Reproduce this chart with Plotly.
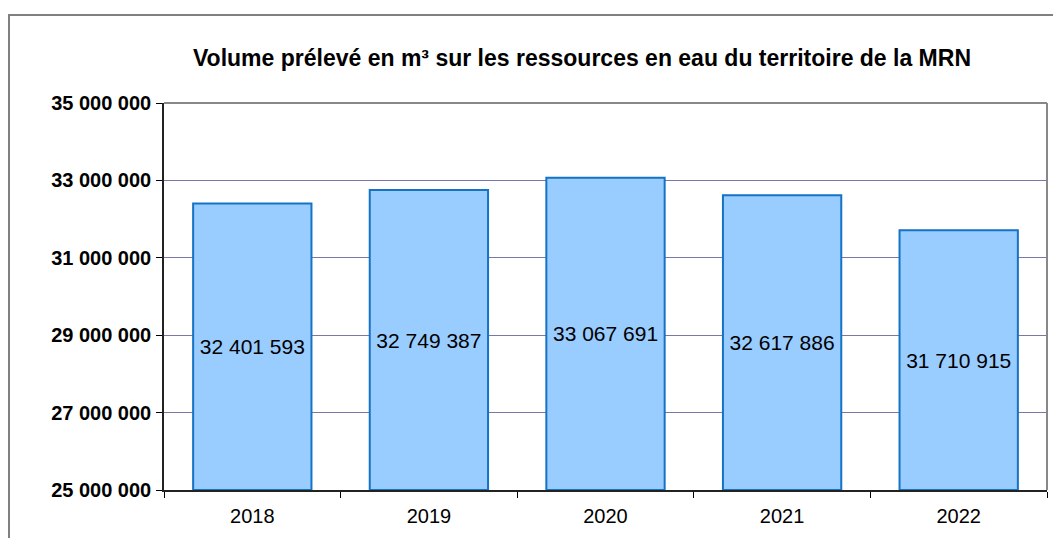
import plotly.graph_objects as go

years = ["2018", "2019", "2020", "2021", "2022"]
volumes = [32401593, 32749387, 33067691, 32617886, 31710915]
y_min, y_max = 25000000, 35000000
tick_vals = [25000000, 27000000, 29000000, 31000000, 33000000, 35000000]
tick_text = ["25 000 000", "27 000 000", "29 000 000", "31 000 000", "33 000 000", "35 000 000"]


def fmt(v):
    return f"{v:,}".replace(",", " ")


labels = [fmt(v) for v in volumes]
FONT = "Liberation Sans, Arial, sans-serif"

fig = go.Figure()
fig.add_trace(go.Bar(
    x=years, y=[v - y_min for v in volumes], base=y_min, text=labels,
    textposition="inside", insidetextanchor="middle",
    textangle=0,
    textfont=dict(family=FONT, size=21, color="black"),
    marker=dict(color="#99CCFF", line=dict(color="#1572C4", width=2)),
    width=0.67,
    hoverinfo="skip",
))

L, R, T, B = 164, 6, 103, 48
W, H = 1053, 538
pw = W - L - R
ph = H - T - B

fig.update_layout(
    width=W, height=H,
    margin=dict(l=L, r=R, t=T, b=B),
    paper_bgcolor="white", plot_bgcolor="white",
    showlegend=False,
    title=dict(
        text="Volume prélevé en m³ sur les ressources en eau du territoire de la MRN",
        x=(582 - L) / pw, xref="paper", xanchor="center",
        y=1 - 58 / H, yanchor="middle",
        font=dict(family=FONT, size=23, color="black", weight="bold"),
    ),
    xaxis=dict(
        type="category", tickson="boundaries", ticks="outside", ticklen=6,
        tickcolor="black", showline=True, linecolor="#222222", linewidth=2,
        tickfont=dict(family=FONT, size=20, color="black"),
        ticklabelstandoff=7,
        showgrid=False, mirror=False,
    ),
    yaxis=dict(
        range=[y_min, y_max], tickvals=tick_vals, ticktext=tick_text,
        ticks="outside", ticklen=6, tickcolor="black",
        showline=True, linecolor="#222222", linewidth=1.5,
        showgrid=True, gridcolor="#7878A8", gridwidth=1,
        tickfont=dict(family=FONT, size=20, color="black", weight="bold"),
        ticklabelstandoff=1,
        zeroline=False,
    ),
    shapes=[
        dict(type="line", xref="paper", yref="paper", x0=0, x1=1, y0=1, y1=1,
             line=dict(color="#888888", width=2)),
        dict(type="line", xref="paper", yref="paper", x0=1, x1=1, y0=0, y1=1,
             line=dict(color="#888888", width=2)),
        dict(type="rect", xref="paper", yref="paper",
             x0=(9 - L) / pw, x1=(1080 - L) / pw,
             y0=-(60) / ph, y1=(H - B - 15) / ph,
             line=dict(color="#808080", width=2), layer="below"),
    ],
)

fig.write_html(
    "out.html",
    config={"displayModeBar": False},
    post_script="document.body.style.margin='0px';document.body.style.overflow='hidden';",
)
